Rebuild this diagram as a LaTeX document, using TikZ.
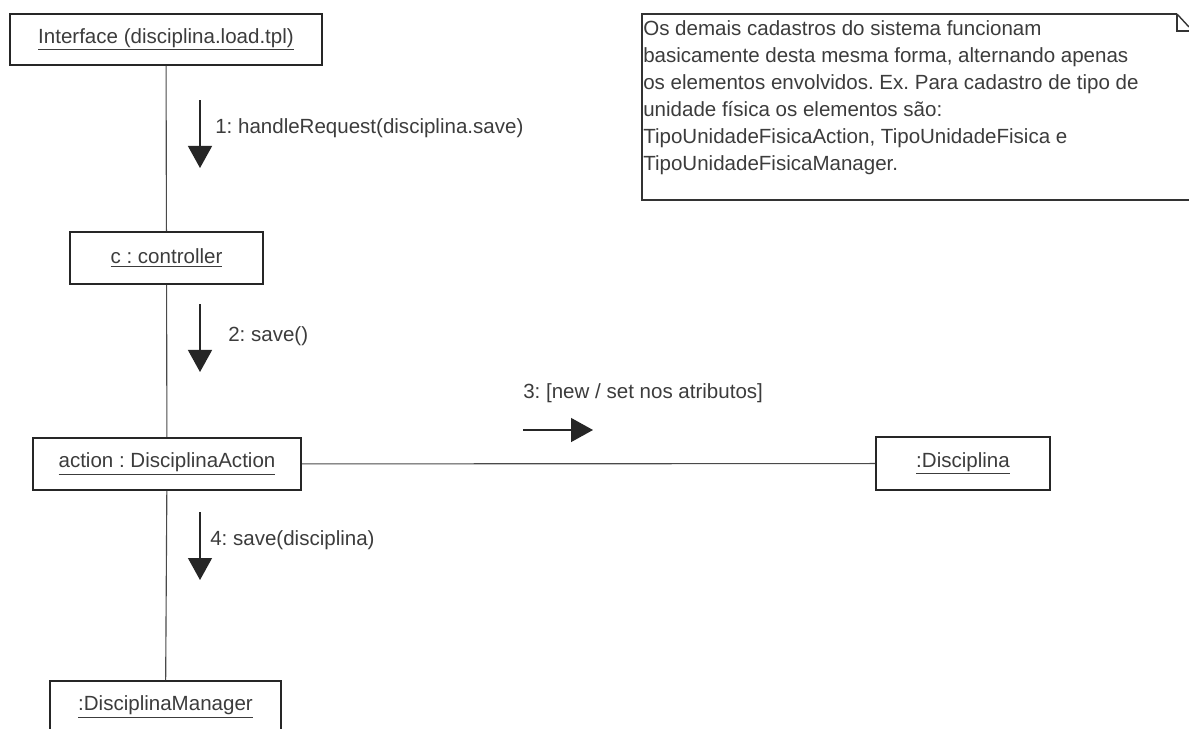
\documentclass[tikz,border=0pt]{standalone}
\usepackage{fontspec}
\setmainfont{Liberation Sans}
\usepackage{xcolor}
\usepackage{tikz}
\usetikzlibrary{arrows.meta,positioning}

\definecolor{txtgray}{HTML}{3C3C3C}
\definecolor{linegray}{HTML}{4A4A4A}
\frenchspacing

\begin{document}
\begin{tikzpicture}[x=0.025cm, y=-0.025cm,
    every node/.style={font=\fontsize{14.6}{19.3}\selectfont, text=txtgray},
    obj/.style={draw=black!85, line width=1.4pt, fill=white, inner sep=0pt},
    life/.style={draw=linegray, line width=0.8pt},
    msg/.style={draw=black!85, line width=0.9pt, -{Triangle[length=0.55cm, width=0.6cm]}},
    lbl/.style={anchor=west, inner sep=0pt}]
  \clip (0,0) rectangle (1189,729);
  \fill[white] (0,0) rectangle (1189,729);

  % objects
  \node[obj, minimum width=7.8cm, minimum height=1.275cm] (iface) at (166,39.5) {\underline{Interface (disciplina.load.tpl)}};
  \node[obj, minimum width=4.825cm, minimum height=1.3cm] (ctrl) at (166.5,258) {\underline{c : controller}};
  \node[obj, minimum width=6.7cm, minimum height=1.3cm] (act) at (167,464) {\underline{action : DisciplinaAction}};
  \node[obj, minimum width=4.35cm, minimum height=1.325cm] (disc) at (963,463.5) {\underline{:Disciplina}};
  \node[obj, minimum width=5.775cm, minimum height=1.3cm] (mgr) at (165.5,707) {\underline{:DisciplinaManager}};

  % links
  \draw[life] (iface) -- (ctrl);
  \draw[life] (ctrl) -- (act);
  \draw[life] (act) -- (mgr);
  \draw[life] (act) -- (disc);

  % messages
  \coordinate (m1a) at (200,100); \coordinate (m1b) at (200,168);
  \coordinate (m2a) at (200,304); \coordinate (m2b) at (200,372);
  \coordinate (m3a) at (523,430); \coordinate (m3b) at (593,430);
  \coordinate (m4a) at (200,512); \coordinate (m4b) at (200,580);
  \draw[msg] (m1a) -- (m1b);
  \draw[msg] (m2a) -- (m2b);
  \draw[msg] (m3a) -- (m3b);
  \draw[msg] (m4a) -- (m4b);
  \node[lbl] (l1) at (215,128) {1: handleRequest(disciplina.save)};
  \node[lbl] (l2) at (228,336) {2: save()};
  \node[lbl] (l3) at (523,393) {3: [new / set nos atributos]};
  \node[lbl] (l4) at (210,540) {4: save(disciplina)};

  % note
  \draw[draw=black!80, line width=1pt] (1177,14) -- (642,14) -- (642,200) -- (1189,200);
  \draw[draw=black!80, line width=1pt] (1177,14) -- (1189,27);
  \draw[draw=black!80, line width=1pt] (1177,14) -- (1177,31) -- (1189,31);
  \node[anchor=north west, inner sep=0pt, align=left] (note) at (643,20)
    {Os demais cadastros do sistema funcionam\\
     basicamente desta mesma forma, alternando apenas\\
     os elementos envolvidos. Ex. Para cadastro de tipo de\\
     unidade física os elementos são:\\
     TipoUnidadeFisicaAction, TipoUnidadeFisica e\\
     TipoUnidadeFisicaManager.};
\end{tikzpicture}
\end{document}
